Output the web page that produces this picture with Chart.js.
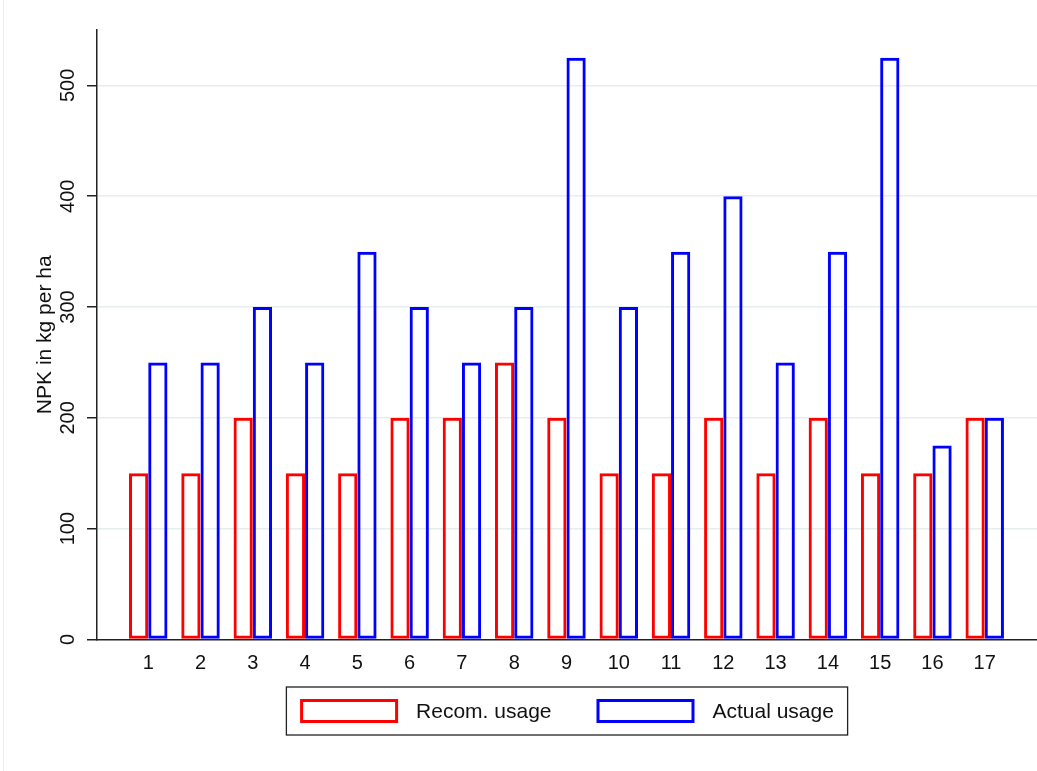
<!DOCTYPE html>
<html><head><meta charset="utf-8">
<script src="https://cdn.jsdelivr.net/npm/chart.js@4/dist/chart.umd.min.js"></script>
<style>html,body{margin:0;padding:0;background:#fff;} canvas{display:block;}</style>
</head><body>
<canvas id="c" width="1037" height="771"></canvas>
<script>
const categories = [1,2,3,4,5,6,7,8,9,10,11,12,13,14,15,16,17];
const recomUsage = [150,150,200,150,150,200,200,250,200,150,150,200,150,200,150,150,200];
const actualUsage = [250,250,300,250,350,300,250,300,525,300,350,400,250,350,525,175,200];
const yTickValues = [0,100,200,300,400,500];
const seriesNames = ['Recom. usage','Actual usage'];
const seriesColors = ['#ff0000','#0000ff'];
const yTitle = 'NPK in kg per ha';

const FONT = '"Liberation Sans", Arial, sans-serif';

const leftEdge = {
  id: 'leftEdge',
  beforeDraw(chart) {
    const ctx = chart.ctx;
    ctx.save();
    ctx.strokeStyle = '#ececec';
    ctx.lineWidth = 1;
    ctx.beginPath(); ctx.moveTo(3.5, 0); ctx.lineTo(3.5, chart.height); ctx.stroke();
    ctx.restore();
  }
};

const frameLegend = {
  id: 'frameLegend',
  afterDraw(chart) {
    const ctx = chart.ctx, area = chart.chartArea;
    ctx.save();
    ctx.font = '21px ' + FONT;
    const sw = 98, sh = 24, gap = 18, between = 45, pad = 13.7;
    const items = chart.data.datasets.map(ds => ({label: ds.label, color: ds.borderColor, w: ctx.measureText(ds.label).width}));
    let content = 0;
    items.forEach((it, i) => { content += sw + gap + it.w + (i ? between : 0); });
    const fw = content + 2 * pad;
    const cx = (area.left + area.right) / 2;
    const fl = cx - fw / 2, ft = area.bottom + 47.5, fh = 48;
    ctx.strokeStyle = '#222'; ctx.lineWidth = 1.3;
    ctx.strokeRect(fl, ft, fw, fh);
    let x = fl + pad;
    const cy = ft + fh / 2;
    items.forEach(it => {
      ctx.lineWidth = 3; ctx.strokeStyle = it.color;
      ctx.strokeRect(x + 1.5, cy - sh / 2 + 1.5, sw - 3, sh - 3);
      x += sw + gap;
      ctx.fillStyle = '#111'; ctx.textBaseline = 'middle'; ctx.textAlign = 'left';
      ctx.fillText(it.label, x, cy + 1);
      x += it.w + between;
    });
    ctx.restore();
  }
};

new Chart(document.getElementById('c'), {
  type: 'bar',
  data: {
    datasets: [
      {label: seriesNames[0], data: categories.map((c, i) => ({x: c, y: recomUsage[i]})),
       backgroundColor: 'rgba(0,0,0,0)', borderColor: seriesColors[0], borderWidth: 3, borderSkipped: false},
      {label: seriesNames[1], data: categories.map((c, i) => ({x: c, y: actualUsage[i]})),
       backgroundColor: 'rgba(0,0,0,0)', borderColor: seriesColors[1], borderWidth: 3, borderSkipped: false}
    ]
  },
  options: {
    responsive: false, animation: false, devicePixelRatio: 1,
    categoryPercentage: 0.736, barPercentage: 1,
    layout: {padding: {top: 30, right: 0, bottom: 91.5, left: 0}},
    plugins: {legend: {display: false}, tooltip: {enabled: false}},
    scales: {
      x: {
        type: 'linear', min: 0.02, max: 18, offset: false, z: 1,
        grid: {display: false, drawTicks: false, offset: false},
        border: {display: true, color: '#222', width: 1.5},
        afterBuildTicks: s => { s.ticks = categories.map(v => ({value: v})); },
        afterFit: s => { s.height = 40; },
        ticks: {font: {family: FONT, size: 20}, color: '#111', padding: 12, maxRotation: 0, minRotation: 0, autoSkip: false}
      },
      y: {
        type: 'linear', min: 0, max: 550,
        afterBuildTicks: s => { s.ticks = yTickValues.map(v => ({value: v})); },
        afterFit: s => { s.width = 97; },
        grid: {
          color: c => (c.tick && c.tick.value === 0) ? 'rgba(0,0,0,0)' : '#e6eef0',
          lineWidth: 1.5, tickLength: 10, tickColor: '#222', tickWidth: 1.5, drawTicks: true
        },
        border: {display: true, color: '#222', width: 1.5},
        ticks: {font: {family: FONT, size: 20}, color: '#111', minRotation: 90, maxRotation: 90, crossAlign: 'center', padding: 2},
        title: {display: true, text: yTitle, font: {family: FONT, size: 21}, color: '#111', padding: {top: 33, bottom: 0}}
      }
    }
  },
  plugins: [leftEdge, frameLegend]
});
</script>
</body></html>
